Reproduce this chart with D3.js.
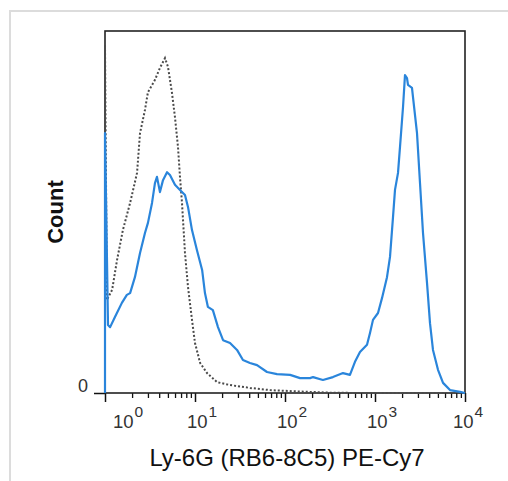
<!DOCTYPE html>
<html>
<head>
<meta charset="utf-8">
<script src="https://cdn.jsdelivr.net/npm/d3@7"></script>
<style>
  body { margin: 0; background: #fff; }
  svg { display: block; font-family: "Liberation Sans", Arial, sans-serif; }
</style>
</head>
<body>
<svg id="chart"></svg>
<script>
let w = 508
let h = 481

// fluorescence intensity (PE-Cy7) and count (% of max)
let isotypeX = [1, 1, 1.05, 1.2, 1.36, 1.58, 1.9, 2.27, 2.45, 2.78, 3.0, 3.59, 4.08, 4.64, 5.01, 5.55, 5.99, 6.47, 6.81, 7.17, 7.74, 8.36, 9.26, 10, 11.4, 13.6, 17.6, 24.5, 40.8, 68.1, 147, 316, 681, 10000]
let isotypeY = [0, 96.1, 25.7, 28.5, 36.7, 45.0, 52.5, 60.8, 71.8, 78.2, 83.1, 86.5, 89.8, 92.5, 90.1, 82.9, 76.2, 68.0, 59.7, 52.5, 38.7, 29.3, 20.2, 13.8, 8.3, 5.5, 3.0, 2.2, 1.4, 0.8, 0.4, 0.1, 0, 0]

let stainedX = [1, 1, 1.08, 1.14, 1.29, 1.54, 1.75, 1.9, 2.15, 2.45, 2.78, 3.0, 3.33, 3.59, 3.78, 4.08, 4.41, 4.89, 5.27, 5.99, 6.81, 7.74, 8.36, 9.26, 10.5, 12.0, 12.9, 13.9, 15.8, 18.0, 20.5, 24.5, 29.3, 34.1, 40.8, 48.9, 63.1, 81.5, 114, 147, 190, 205, 264, 341, 441, 527, 599, 681, 815, 880, 950, 1080, 1196, 1359, 1468, 1585, 1668, 1802, 1896, 2048, 2154, 2268, 2326, 2576, 2642, 2929, 3162, 3415, 3784, 4084, 4409, 5012, 5700, 6813, 8799, 10000]
let stainedY = [0, 71.8, 18.8, 18.2, 21.0, 24.9, 27.1, 27.6, 32.0, 38.7, 44.2, 47.0, 52.5, 58.0, 59.7, 55.5, 58.8, 61.0, 60.2, 57.5, 56.1, 54.7, 51.4, 45.0, 39.5, 34.0, 27.6, 23.8, 22.9, 18.2, 14.6, 13.8, 11.9, 9.1, 8.3, 7.7, 5.8, 5.2, 5.0, 4.1, 4.1, 4.4, 3.6, 4.4, 5.5, 5.0, 8.6, 11.3, 13.3, 16.6, 20.2, 22.1, 26.2, 32.0, 37.6, 48.6, 56.1, 60.8, 68.0, 79.0, 87.8, 87.0, 85.1, 84.3, 81.8, 71.8, 58.0, 44.2, 30.4, 19.3, 11.9, 6.4, 2.8, 0.8, 0.3, 0]

let majorTicks = [1, 10, 100, 1000, 10000]
let majorExp = ["0", "1", "2", "3", "4"]
let xTitle = "Ly-6G (RB6-8C5) PE-Cy7"
let yTitle = "Count"

let svg = d3.select("#chart")
    .attr("width", w)
    .attr("height", h)

// light frame of the original figure
svg.append("path")
    .attr("d", "M10," + h + "V11H" + w)
    .attr("fill", "none")
    .attr("stroke", "#dcdcdc")
    .attr("stroke-width", 2)

let plotLeft = 105, plotRight = 465, plotTop = 31, plotBottom = 393

let x = d3.scaleLog().domain([1, 10000]).range([plotLeft, plotRight])
let y = d3.scaleLinear().domain([0, 100]).range([plotBottom, plotTop])

// minor ticks
let minor = x.ticks().filter(d => majorTicks.indexOf(d) < 0)
svg.append("g")
    .attr("transform", "translate(0," + plotBottom + ")")
    .call(d3.axisBottom(x).tickValues(minor).tickSize(5).tickFormat(""))
    .call(g => g.select(".domain").remove())
    .selectAll("line").attr("stroke", "#111").attr("stroke-width", 1.3)

// major ticks
svg.append("g")
    .attr("transform", "translate(0," + plotBottom + ")")
    .call(d3.axisBottom(x).tickValues(majorTicks).tickSize(9).tickFormat(""))
    .call(g => g.select(".domain").remove())
    .selectAll("line").attr("stroke", "#111").attr("stroke-width", 1.5)

// decade labels 10^n
let labels = svg.append("g")
labels.selectAll("text")
    .data(majorTicks)
    .enter()
    .append("text")
    .attr("x", (d, i) => x(d) + (i == 0 ? 8 : (i == majorTicks.length - 1 ? -12 : -8)))
    .attr("y", 428)
    .attr("font-size", 18.5)
    .attr("fill", "#333")
    .each(function (d, i) {
        let t = d3.select(this)
        t.append("tspan").text("10")
        t.append("tspan").attr("dx", 1).attr("dy", -11).attr("font-size", 15.5).text(majorExp[i])
    })

// y axis: single zero tick
let yAxis = svg.append("g")
    .attr("transform", "translate(" + plotLeft + ",0)")
    .call(d3.axisLeft(y).tickValues([0]).tickSize(11).tickPadding(6).tickFormat(d3.format("d")))
yAxis.select(".domain").remove()
yAxis.selectAll("line").attr("stroke", "#111").attr("stroke-width", 1.5)
yAxis.selectAll("text")
    .attr("font-size", 18)
    .attr("fill", "#333")
    .attr("font-family", "Liberation Sans, Arial, sans-serif")
    .attr("dy", null)
    .attr("y", -2)

// plot box
svg.append("rect")
    .attr("x", plotLeft)
    .attr("y", plotTop)
    .attr("width", plotRight - plotLeft)
    .attr("height", plotBottom - plotTop)
    .attr("fill", "none")
    .attr("stroke", "#222")
    .attr("stroke-width", 1.6)

let line = d3.line()
    .x(d => x(d[0]))
    .y(d => y(d[1]))

svg.append("path")
    .datum(isotypeX.map((v, i) => [v, isotypeY[i]]))
    .attr("d", line)
    .attr("fill", "none")
    .attr("stroke", "#4a4a4a")
    .attr("stroke-width", 2)
    .attr("stroke-dasharray", "2,2")

svg.append("path")
    .datum(stainedX.map((v, i) => [v, stainedY[i]]))
    .attr("d", line)
    .attr("fill", "none")
    .attr("stroke", "#2a85db")
    .attr("stroke-width", 2.2)
    .attr("stroke-linejoin", "round")

// axis titles
svg.append("text")
    .attr("x", 287)
    .attr("y", 466)
    .attr("text-anchor", "middle")
    .attr("font-size", 24)
    .attr("fill", "#111")
    .text(xTitle)

svg.append("text")
    .attr("transform", "translate(63,212) rotate(-90)")
    .attr("text-anchor", "middle")
    .attr("font-size", 22)
    .attr("font-weight", "bold")
    .attr("fill", "#111")
    .text(yTitle)
</script>
</body>
</html>
